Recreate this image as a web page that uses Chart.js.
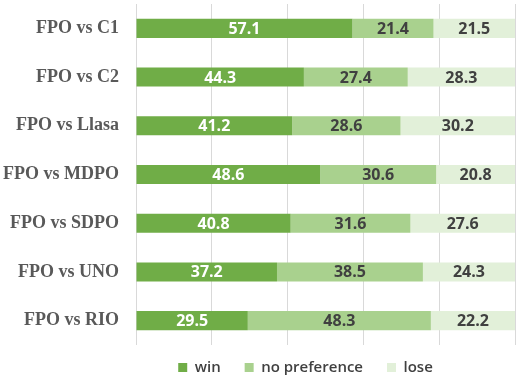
<!DOCTYPE html>
<html>
<head>
<meta charset="utf-8">
<script src="https://cdn.jsdelivr.net/npm/chart.js@4/dist/chart.umd.min.js"></script>
<style>
  html, body { margin: 0; padding: 0; background: #fff; }
  #wrap { width: 523px; height: 379px; }
</style>
</head>
<body>
<div id="wrap"><canvas id="grafico"></canvas></div>
<script>
// dados
const categorias = ["FPO vs C1", "FPO vs C2", "FPO vs Llasa", "FPO vs MDPO", "FPO vs SDPO", "FPO vs UNO", "FPO vs RIO"];
const win = [57.1, 44.3, 41.2, 48.6, 40.8, 37.2, 29.5];
const noPref = [21.4, 27.4, 28.6, 30.6, 31.6, 38.5, 48.3];
const lose = [21.5, 28.3, 30.2, 20.8, 27.6, 24.3, 22.2];

// rótulos dentro das barras
const rotulos = {
    id: "rotulos",
    afterDatasetsDraw(chart) {
        const ctx = chart.ctx;
        ctx.save();
        ctx.font = "bold 16px 'Open Sans'";
        ctx.textAlign = "center";
        ctx.textBaseline = "middle";
        chart.data.datasets.forEach((ds, i) => {
            chart.getDatasetMeta(i).data.forEach((bar, j) => {
                const x = (bar.x + bar.base) / 2;
                ctx.fillStyle = i === 0 ? "#ffffff" : "#404040";
                ctx.fillText(ds.data[j].toFixed(1), x, bar.y + 1);
            });
        });
        ctx.restore();
    }
};

// legenda mais baixa e centrada sob a área do gráfico
const ajusteLegenda = {
    id: "ajusteLegenda",
    beforeLayout(chart) {
        const lg = chart.legend;
        if (lg && !lg._ajustada) {
            const fit = lg.fit.bind(lg);
            lg.fit = function () { fit(); this.height -= 15; };
            lg._ajustada = true;
        }
    },
    afterLayout(chart) {
        if (chart.legend) {
            chart.legend.left += 96;
            chart.legend.top -= 9;
        }
    }
};

new Chart(document.getElementById("grafico"), {
    type: "bar",
    data: {
        labels: categorias,
        datasets: [
            { label: "win", data: win, backgroundColor: "#70ad47" },
            { label: "no preference", data: noPref, backgroundColor: "#a9d18e" },
            { label: "lose", data: lose, backgroundColor: "#e2f0d9" }
        ]
    },
    options: {
        indexAxis: "y",
        responsive: true,
        maintainAspectRatio: false,
        animation: false,
        layout: { padding: { top: 4, right: 8, bottom: 0 } },
        datasets: { bar: { categoryPercentage: 0.8, barPercentage: 0.49 } },
        scales: {
            x: {
                stacked: true,
                min: 0,
                max: 100,
                ticks: { display: false, stepSize: 20 },
                grid: { color: "#d9d9d9", drawTicks: false },
                border: { display: false }
            },
            y: {
                stacked: true,
                grid: { display: false },
                border: { display: false },
                ticks: {
                    color: "#595959",
                    font: { family: "'Liberation Serif'", size: 18, weight: "bold" },
                    padding: 9
                },
                afterFit(scale) {
                    scale.width = 136;
                    scale.paddingTop = 0;
                    scale.paddingBottom = 0;
                }
            }
        },
        plugins: {
            legend: {
                position: "bottom",
                labels: {
                    boxWidth: 9,
                    boxHeight: 9,
                    padding: 24,
                    color: "#404040",
                    font: { family: "'Open Sans'", size: 15, weight: "600" }
                }
            },
            tooltip: { enabled: false }
        }
    },
    plugins: [rotulos, ajusteLegenda]
});
</script>
</body>
</html>
